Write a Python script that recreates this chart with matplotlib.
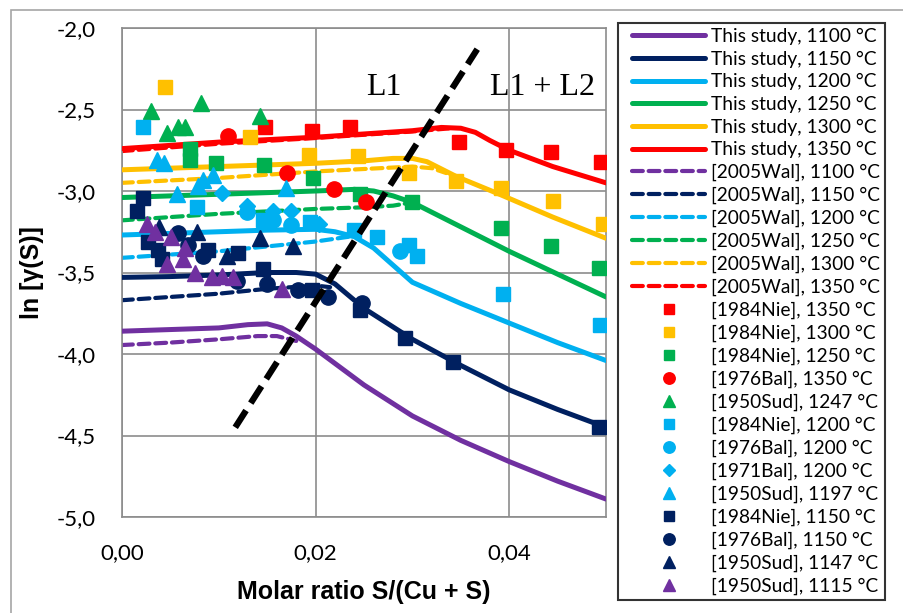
import matplotlib
matplotlib.use("Agg")
import matplotlib.pyplot as plt
from matplotlib.patches import Rectangle
from matplotlib.lines import Line2D
from matplotlib.legend_handler import HandlerLine2D
from matplotlib.ticker import FixedLocator, FuncFormatter

# colours per temperature
c1100, c1150, c1200 = '#7030A0', '#002060', '#00B0F0'
c1250, c1300, c1350 = '#00B050', '#FFC000', '#FF0000'

# This study (solid)
x_s1100 = [0, 0.005, 0.01, 0.013, 0.015, 0.0165, 0.018, 0.02, 0.0225, 0.025, 0.03, 0.035, 0.04, 0.045, 0.05]
y_s1100 = [-3.86, -3.85, -3.84, -3.82, -3.815, -3.84, -3.89, -3.97, -4.08, -4.19, -4.38, -4.53, -4.66, -4.78, -4.89]
x_s1150 = [0, 0.005, 0.01, 0.015, 0.018, 0.02, 0.022, 0.025, 0.03, 0.035, 0.04, 0.045, 0.05]
y_s1150 = [-3.53, -3.525, -3.515, -3.50, -3.50, -3.51, -3.57, -3.72, -3.91, -4.07, -4.22, -4.34, -4.45]
x_s1200 = [0, 0.005, 0.01, 0.015, 0.02, 0.022, 0.024, 0.026, 0.03, 0.035, 0.04, 0.045, 0.05]
y_s1200 = [-3.27, -3.26, -3.25, -3.24, -3.235, -3.25, -3.28, -3.35, -3.56, -3.69, -3.81, -3.93, -4.04]
x_s1250 = [0, 0.005, 0.01, 0.015, 0.02, 0.024, 0.026, 0.028, 0.03, 0.035, 0.04, 0.045, 0.05]
y_s1250 = [-3.04, -3.03, -3.02, -3.01, -3.00, -2.99, -3.00, -3.03, -3.07, -3.22, -3.37, -3.51, -3.65]
x_s1300 = [0, 0.005, 0.01, 0.015, 0.02, 0.025, 0.028, 0.03, 0.0315, 0.0345, 0.039, 0.0445, 0.05]
y_s1300 = [-2.87, -2.86, -2.85, -2.84, -2.83, -2.815, -2.80, -2.80, -2.82, -2.91, -3.02, -3.16, -3.29]
x_s1350 = [0, 0.005, 0.01, 0.015, 0.02, 0.025, 0.03, 0.033, 0.035, 0.0365, 0.038, 0.04, 0.0445, 0.05]
y_s1350 = [-2.74, -2.72, -2.70, -2.685, -2.67, -2.65, -2.63, -2.61, -2.615, -2.64, -2.69, -2.75, -2.85, -2.95]

# [2005Wal] (dashed)
x_w1100 = [0, 0.005, 0.01, 0.014, 0.016, 0.018]
y_w1100 = [-3.945, -3.93, -3.91, -3.89, -3.89, -3.92]
x_w1150 = [0, 0.005, 0.01, 0.015, 0.02, 0.0215]
y_w1150 = [-3.67, -3.65, -3.63, -3.60, -3.58, -3.59]
x_w1200 = [0, 0.005, 0.01, 0.015, 0.02, 0.0235]
y_w1200 = [-3.41, -3.39, -3.37, -3.34, -3.31, -3.28]
x_w1250 = [0, 0.005, 0.01, 0.015, 0.02, 0.025, 0.028, 0.0295]
y_w1250 = [-3.18, -3.16, -3.14, -3.125, -3.11, -3.10, -3.09, -3.075]
x_w1300 = [0, 0.005, 0.01, 0.015, 0.02, 0.025, 0.03, 0.032, 0.0335]
y_w1300 = [-2.95, -2.935, -2.92, -2.90, -2.88, -2.865, -2.85, -2.86, -2.89]
x_w1350 = [0, 0.01, 0.02, 0.03, 0.034]
y_w1350 = [-2.755, -2.71, -2.675, -2.635, -2.615]

# experimental points
x_nie1350 = [0.0148, 0.0196, 0.0236, 0.0348, 0.0397, 0.0443, 0.0495]
y_nie1350 = [-2.61, -2.63, -2.61, -2.70, -2.75, -2.76, -2.82]
x_nie1300 = [0.0044, 0.0132, 0.0193, 0.0244, 0.0296, 0.0345, 0.0392, 0.0445, 0.0497]
y_nie1300 = [-2.36, -2.67, -2.78, -2.785, -2.89, -2.94, -2.98, -3.06, -3.20]
x_nie1250 = [0.0070, 0.0070, 0.0097, 0.0147, 0.0197, 0.0246, 0.0300, 0.0392, 0.0443, 0.0493]
y_nie1250 = [-2.74, -2.81, -2.83, -2.84, -2.92, -3.02, -3.07, -3.23, -3.34, -3.47]
x_bal1350 = [0.0110, 0.0170, 0.0219, 0.0252]
y_bal1350 = [-2.66, -2.89, -2.99, -3.07]
x_sud1247 = [0.0030, 0.0047, 0.0058, 0.0065, 0.0082, 0.0143]
y_sud1247 = [-2.51, -2.645, -2.61, -2.61, -2.46, -2.54]
x_nie1200 = [0.0022, 0.0077, 0.0146, 0.0194, 0.0240, 0.0263, 0.0297, 0.0305, 0.0394, 0.0494]
y_nie1200 = [-2.61, -3.10, -3.18, -3.19, -3.24, -3.28, -3.33, -3.40, -3.63, -3.82]
x_bal1200 = [0.0129, 0.0156, 0.0175, 0.0287]
y_bal1200 = [-3.13, -3.18, -3.21, -3.37]
x_bal71_1200 = [0.0103, 0.0129, 0.0156, 0.0175, 0.0203]
y_bal71_1200 = [-3.01, -3.09, -3.12, -3.12, -3.20]
x_sud1197 = [0.0036, 0.0043, 0.0057, 0.0079, 0.0084, 0.0094, 0.0169]
y_sud1197 = [-2.81, -2.83, -3.02, -2.97, -2.93, -2.90, -2.98]
x_nie1150 = [0.0022, 0.0016, 0.0027, 0.0037, 0.0041, 0.0089, 0.0120, 0.0146, 0.0196, 0.0246, 0.0292, 0.0342, 0.0493]
y_nie1150 = [-3.04, -3.12, -3.31, -3.36, -3.42, -3.36, -3.38, -3.48, -3.61, -3.73, -3.90, -4.05, -4.45]
x_bal1150 = [0.0058, 0.0068, 0.0084, 0.0119, 0.0150, 0.0182, 0.0213, 0.0248]
y_bal1150 = [-3.26, -3.33, -3.40, -3.55, -3.57, -3.61, -3.65, -3.69]
x_sud1147 = [0.0038, 0.0077, 0.0108, 0.0143, 0.0177]
y_sud1147 = [-3.22, -3.25, -3.40, -3.29, -3.34]
x_sud1115 = [0.0026, 0.0034, 0.0051, 0.0065, 0.0063, 0.0046, 0.0075, 0.0093, 0.0103, 0.0115, 0.0165]
y_sud1115 = [-3.20, -3.25, -3.28, -3.35, -3.42, -3.45, -3.50, -3.53, -3.52, -3.53, -3.60]

# phase boundary L1 / L1 + L2
x_bound = [0.0117, 0.0367]
y_bound = [-4.45, -2.13]

y_ticks = [-5.0, -4.5, -4.0, -3.5, -3.0, -2.5, -2.0]
x_ticks = [0.0, 0.02, 0.04]

fig = plt.figure(figsize=(9.04, 6.13), dpi=100)
ax = fig.add_axes([122 / 904, 1 - 517 / 613, 484 / 904, 489 / 613])

# outer chart border
fig.patches.append(Rectangle((11 / 904, -0.1), 1.2, 1 - 10 / 613 + 0.1, transform=fig.transFigure,
                             fill=False, edgecolor='#a6a6a6', linewidth=1.2, zorder=0))

handles = []
solid = [(x_s1100, y_s1100, c1100, '1100'), (x_s1150, y_s1150, c1150, '1150'),
         (x_s1200, y_s1200, c1200, '1200'), (x_s1250, y_s1250, c1250, '1250'),
         (x_s1300, y_s1300, c1300, '1300'), (x_s1350, y_s1350, c1350, '1350')]
for xs, ys, c, t in solid:
    l, = ax.plot(xs, ys, color=c, lw=3.6, solid_capstyle='round', zorder=3,
                 label='This study, {} °C'.format(t))
    handles.append(l)

wal = [(x_w1100, y_w1100, c1100, '1100'), (x_w1150, y_w1150, c1150, '1150'),
       (x_w1200, y_w1200, c1200, '1200'), (x_w1250, y_w1250, c1250, '1250'),
       (x_w1300, y_w1300, c1300, '1300'), (x_w1350, y_w1350, c1350, '1350')]
for xs, ys, c, t in wal:
    l, = ax.plot(xs, ys, color=c, lw=3.0, dashes=(2.6, 1.4), dash_capstyle='round', zorder=2,
                 label='[2005Wal], {} °C'.format(t))
    handles.append(l)

pts = [(x_nie1350, y_nie1350, c1350, 's', '[1984Nie], 1350 °C'),
       (x_nie1300, y_nie1300, c1300, 's', '[1984Nie], 1300 °C'),
       (x_nie1250, y_nie1250, c1250, 's', '[1984Nie], 1250 °C'),
       (x_bal1350, y_bal1350, c1350, 'o', '[1976Bal], 1350 °C'),
       (x_sud1247, y_sud1247, c1250, '^', '[1950Sud], 1247 °C'),
       (x_nie1200, y_nie1200, c1200, 's', '[1984Nie], 1200 °C'),
       (x_bal1200, y_bal1200, c1200, 'o', '[1976Bal], 1200 °C'),
       (x_bal71_1200, y_bal71_1200, c1200, 'D', '[1971Bal], 1200 °C'),
       (x_sud1197, y_sud1197, c1200, '^', '[1950Sud], 1197 °C'),
       (x_nie1150, y_nie1150, c1150, 's', '[1984Nie], 1150 °C'),
       (x_bal1150, y_bal1150, c1150, 'o', '[1976Bal], 1150 °C'),
       (x_sud1147, y_sud1147, c1150, '^', '[1950Sud], 1147 °C'),
       (x_sud1115, y_sud1115, c1100, '^', '[1950Sud], 1115 °C')]
for xs, ys, c, m, lab in pts:
    ms = {'s': 10.5, 'o': 11, '^': 11, 'D': 8}[m]
    l, = ax.plot(xs, ys, ls='none', marker=m, ms=ms, color=c, mec=c, zorder=4, label=lab)
    handles.append(l)

ax.plot(x_bound, y_bound, color='black', lw=4.5, dashes=(3.2, 1.4), zorder=6)

ax.text(0.0270, -2.411, 'L1', family='Liberation Serif', fontsize=23, ha='center', va='baseline')
ax.text(0.0434, -2.411, 'L1 + L2', family='Liberation Serif', fontsize=23, ha='center', va='baseline')

ax.set_xlim(0, 0.05)
ax.set_ylim(-5.0, -2.0)
ax.xaxis.set_major_locator(FixedLocator(x_ticks))
ax.yaxis.set_major_locator(FixedLocator(y_ticks))
ax.xaxis.set_major_formatter(FuncFormatter(lambda v, p: '{:.2f}'.format(v).replace('.', ',')))
ax.yaxis.set_major_formatter(FuncFormatter(lambda v, p: '{:.1f}'.format(v).replace('.', ',')))
ax.tick_params(length=0, labelsize=16, pad=19)
for lab in ax.get_xticklabels() + ax.get_yticklabels():
    lab.set_family('Lato')
ax.grid(True, color='#8c8c8c', lw=1.2)
ax.set_axisbelow(True)
for s in ax.spines.values():
    s.set_color('#8c8c8c')
    s.set_linewidth(1.2)

ax.set_xlabel('Molar ratio S/(Cu + S)', family='Liberation Sans', fontsize=18, fontweight='bold', labelpad=12)
ax.set_ylabel('ln [γ(S)]', family='Liberation Sans', fontsize=18, fontweight='bold', labelpad=9)

leg = fig.legend(handles=handles, loc='upper left', bbox_to_anchor=(618 / 904, 1 - 23 / 613),
                 bbox_transform=fig.transFigure, borderaxespad=0, frameon=True, fancybox=False,
                 edgecolor='black', prop={'family': 'Lato', 'size': 13.75}, handlelength=4.3,
                 handletextpad=0.31, labelspacing=0.295, borderpad=0.25, markerscale=0.75,
                 handler_map={Line2D: HandlerLine2D(xpad=0.5)})
leg.get_frame().set_linewidth(1.5)

fig.savefig('out.png', dpi=100)
